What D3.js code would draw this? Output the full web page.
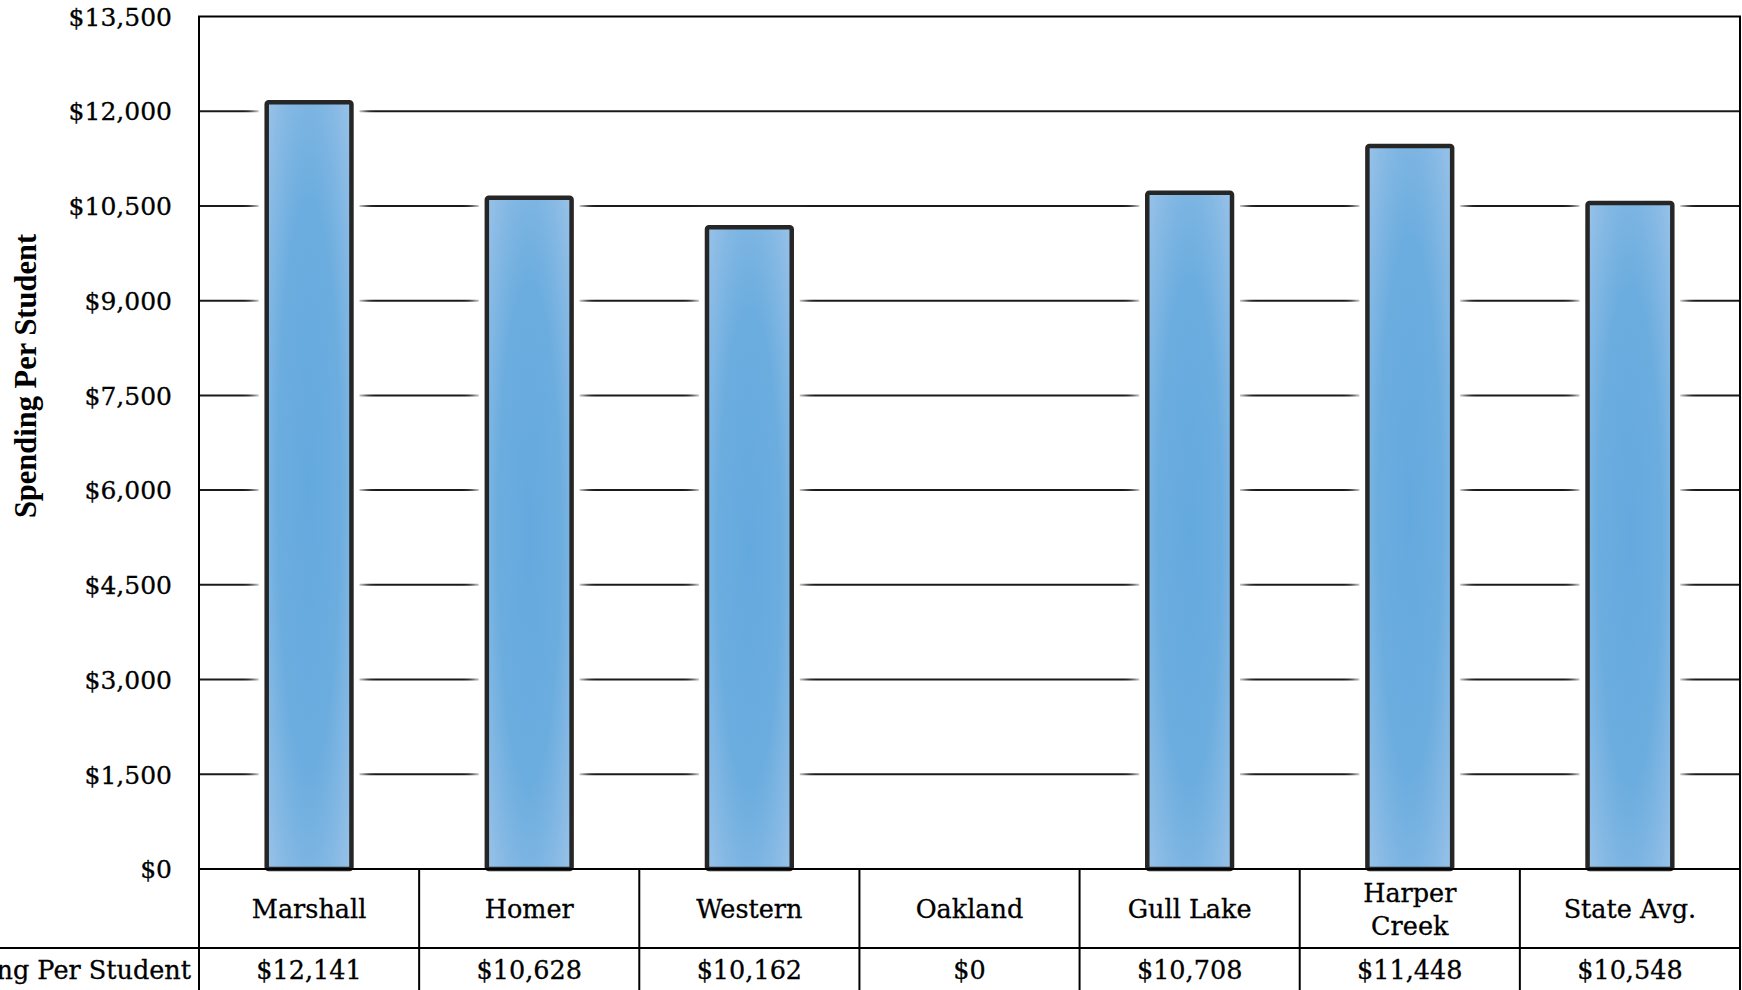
<!DOCTYPE html>
<html>
<head>
<meta charset="utf-8">
<script src="https://cdn.jsdelivr.net/npm/d3@7"></script>
<style>
  body { margin: 0; background: #fff; }
  svg { display: block; }
</style>
</head>
<body>
<svg id="chart" width="1742" height="990"></svg>
<script>
const categories = ["Marshall", "Homer", "Western", "Oakland", "Gull Lake", "Harper Creek", "State Avg."];
const categoryLines = [["Marshall"], ["Homer"], ["Western"], ["Oakland"], ["Gull Lake"], ["Harper", "Creek"], ["State Avg."]];
const spending = [12141, 10628, 10162, 0, 10708, 11448, 10548];
const yTicks = [0, 1500, 3000, 4500, 6000, 7500, 9000, 10500, 12000, 13500];
const seriesName = "Spending Per Student";
const yTitle = "Spending Per Student";

(function () {
const svg = d3.select("#chart");
const W = 1742, H = 990;
const pLeft = 199, pRight = 1740, pTop = 16.5, pBottom = 869;
const rowSplit = 948;
const labelFont = "'DejaVu Serif', serif";
const fs = 25.5;

const x = d3.scaleBand().domain(categories).range([pLeft, pRight]).paddingInner(0).paddingOuter(0);
const y = d3.scaleLinear().domain([0, 13500]).range([pBottom, pTop]);
const fmt = d3.format("$,");

const defs = svg.append("defs");
const grad = defs.append("radialGradient").attr("id", "barGrad")
  .attr("cx", "50%").attr("cy", "50%").attr("r", "75%");
grad.append("stop").attr("offset", "0%").attr("stop-color", "#64a9de");
grad.append("stop").attr("offset", "50%").attr("stop-color", "#6caddf");
grad.append("stop").attr("offset", "100%").attr("stop-color", "#9fc5e9");
const blur = defs.append("filter").attr("id", "glow").attr("x", "-50%").attr("y", "-50%").attr("width", "200%").attr("height", "200%");
blur.append("feGaussianBlur").attr("stdDeviation", 6);

// y axis labels
const yAxis = d3.axisLeft(y).tickValues(yTicks).tickFormat(fmt).tickSize(0).tickPadding(0);
const gAxis = svg.append("g").attr("transform", `translate(172,0)`).call(yAxis);
gAxis.select(".domain").remove();
gAxis.selectAll("text")
  .attr("font-family", labelFont).attr("font-size", 25).attr("fill", "#000")
  .attr("stroke", "#000").attr("stroke-width", 0.3)
  .attr("dy", "0.35em");

// gridlines
svg.append("g").selectAll("line").data(yTicks.filter(d => d > 0 && d < 13500)).join("line")
  .attr("x1", pLeft).attr("x2", pRight)
  .attr("y1", d => y(d)).attr("y2", d => y(d))
  .attr("stroke", "#1a1a1a").attr("stroke-width", 2);

const bw = x.bandwidth() * 0.385;
const barData = categories.map((c, i) => ({ c, v: spending[i] })).filter(d => d.v > 0);

// white glow behind bars (cuts gridlines)
svg.append("g").selectAll("rect").data(barData).join("rect")
  .attr("x", d => x(d.c) + x.bandwidth() / 2 - bw / 2 - 12)
  .attr("y", d => y(d.v) - 12)
  .attr("width", bw + 24)
  .attr("height", d => y(0) - y(d.v) + 12)
  .attr("fill", "#fff").attr("filter", "url(#glow)");
svg.append("g").selectAll("rect").data(barData).join("rect")
  .attr("x", d => x(d.c) + x.bandwidth() / 2 - bw / 2 - 8)
  .attr("y", d => y(d.v) - 8)
  .attr("width", bw + 16)
  .attr("height", d => y(0) - y(d.v) + 8)
  .attr("fill", "#fff");

// bars
svg.append("g").selectAll("rect").data(barData).join("rect")
  .attr("x", d => x(d.c) + x.bandwidth() / 2 - bw / 2)
  .attr("y", d => y(d.v))
  .attr("width", bw)
  .attr("height", d => y(0) - y(d.v))
  .attr("rx", 2)
  .attr("fill", "url(#barGrad)")
  .attr("stroke", "#262626").attr("stroke-width", 4.5);

// plot border
svg.append("rect").attr("x", pLeft).attr("y", pTop).attr("width", pRight - pLeft).attr("height", pBottom - pTop)
  .attr("fill", "none").attr("stroke", "#000").attr("stroke-width", 2);

// table
const tbl = svg.append("g");
tbl.append("line").attr("x1", pLeft).attr("x2", pRight).attr("y1", pBottom).attr("y2", pBottom)
  .attr("stroke", "#000").attr("stroke-width", 2);
tbl.append("line").attr("x1", 0).attr("x2", pRight).attr("y1", rowSplit).attr("y2", rowSplit)
  .attr("stroke", "#000").attr("stroke-width", 2);
const bounds = categories.map(c => x(c)).concat([pRight]);
tbl.selectAll("line.v").data(bounds).join("line").attr("class", "v")
  .attr("x1", d => d).attr("x2", d => d).attr("y1", pBottom).attr("y2", H)
  .attr("stroke", "#000").attr("stroke-width", 2);

tbl.selectAll("text.cat").data(categories).join("text").attr("class", "cat")
  .attr("x", d => x(d) + x.bandwidth() / 2)
  .attr("text-anchor", "middle")
  .attr("font-family", labelFont).attr("font-size", fs).attr("fill", "#000")
  .attr("stroke", "#000").attr("stroke-width", 0.3)
  .each(function (d, i) {
    const lines = categoryLines[i];
    const lh = 33;
    const y0 = (pBottom + rowSplit) / 2 + 1 - (lines.length - 1) * lh / 2;
    d3.select(this).selectAll("tspan").data(lines).join("tspan")
      .attr("x", x(d) + x.bandwidth() / 2)
      .attr("y", (l, j) => y0 + j * lh)
      .attr("dy", "0.35em")
      .text(l => l);
  });

tbl.selectAll("text.val").data(spending).join("text").attr("class", "val")
  .attr("x", (d, i) => x(categories[i]) + x.bandwidth() / 2)
  .attr("y", 970).attr("dy", "0.35em")
  .attr("text-anchor", "middle")
  .attr("font-family", labelFont).attr("font-size", fs).attr("fill", "#000")
  .attr("stroke", "#000").attr("stroke-width", 0.3)
  .text(d => fmt(d));

tbl.append("text").attr("x", 191).attr("y", 970).attr("dy", "0.35em")
  .attr("text-anchor", "end")
  .attr("font-family", labelFont).attr("font-size", fs).attr("fill", "#000")
  .attr("stroke", "#000").attr("stroke-width", 0.3)
  .text(seriesName);

// y title
svg.append("text")
  .attr("transform", `translate(25,376) rotate(-90)`)
  .attr("text-anchor", "middle").attr("dy", "0.35em")
  .attr("font-family", "'Liberation Serif', 'Times New Roman', serif")
  .attr("font-weight", "bold").attr("font-size", 30.5).attr("fill", "#000")
  .text(yTitle);
})();
</script>
</body>
</html>
